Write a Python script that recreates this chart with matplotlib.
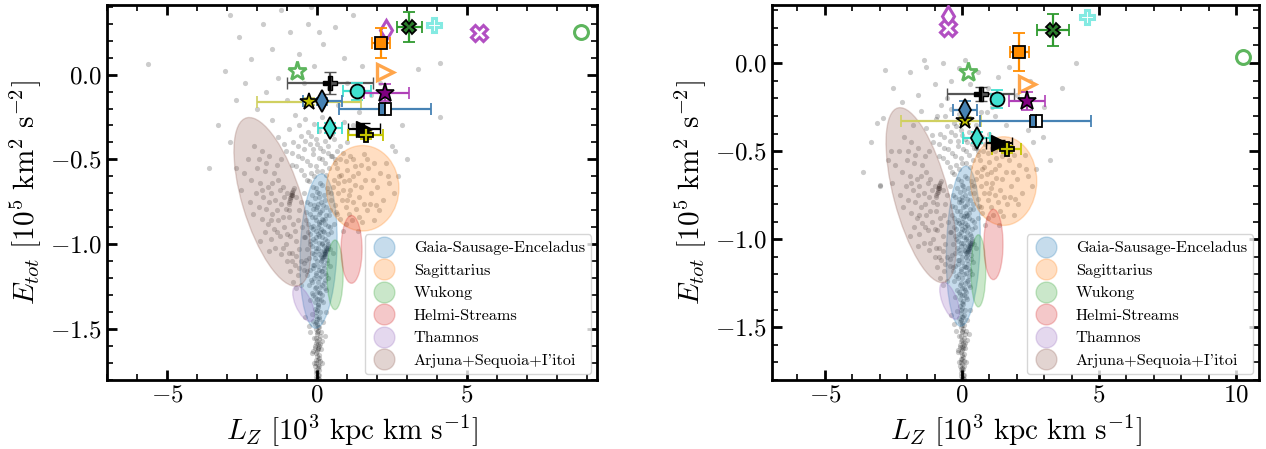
import numpy as np
import matplotlib
matplotlib.use("Agg")
import matplotlib.pyplot as plt
from matplotlib.patches import Ellipse
from matplotlib.lines import Line2D
from matplotlib.ticker import MultipleLocator, FormatStrFormatter, FuncFormatter

plt.rcParams.update({
    "font.family": "serif",
    "font.serif": ["cmr10"],
    "mathtext.fontset": "cm",
    "axes.formatter.use_mathtext": True,
    "axes.unicode_minus": True,
})

# ---------------------------------------------------------------------------
# Halo substructures: centre, half-extent in Lz and E, and Lz-E correlation
# ---------------------------------------------------------------------------
region_names = ["Gaia-Sausage-Enceladus", "Sagittarius", "Wukong",
                "Helmi-Streams", "Thamnos", "Arjuna+Sequoia+I'itoi"]
region_lz = [0.05, 1.52, 0.60, 1.15, -0.45, -1.49]
region_e = [-1.04, -0.67, -1.18, -1.03, -1.35, -0.75]
region_half_lz = [0.62, 1.21, 0.27, 0.35, 0.36, 1.28]
region_half_e = [0.455, 0.252, 0.205, 0.20, 0.105, 0.497]
region_corr = [0.15, 0.0, 0.0, 0.0, -0.6, -0.6]

# ---------------------------------------------------------------------------
# Background halo stars (Lz [1e3 kpc km/s], E [1e5 km^2/s^2])
# ---------------------------------------------------------------------------
stars_tail = [
    (0.02, -1.36), (-0.08, -1.38), (0.10, -1.40), (-0.03, -1.42), (0.05, -1.44),
    (-0.12, -1.45), (0.00, -1.47), (0.08, -1.49), (-0.05, -1.50), (0.14, -1.52),
    (0.01, -1.53), (-0.09, -1.55), (0.06, -1.56), (-0.02, -1.58), (0.11, -1.59),
    (-0.06, -1.61), (0.03, -1.62), (-0.14, -1.63), (0.07, -1.65), (0.00, -1.66),
    (-0.04, -1.68), (0.09, -1.69), (0.02, -1.71), (-0.07, -1.72), (0.05, -1.74),
    (-0.01, -1.75), (0.04, -1.77), (-0.03, -1.78), (0.01, -1.79), (0.06, -1.795),
    (-0.18, -1.41), (0.20, -1.46), (-0.22, -1.52), (0.18, -1.57), (-0.16, -1.64),
    (0.15, -1.70), (0.30, -1.40), (-0.28, -1.48), (0.00, -1.39), (0.03, -1.51),
    (-0.02, -1.64), (0.02, -1.73), (0.12, -1.62), (-0.10, -1.70), (0.25, -1.54),
    (0.00, -1.57), (-0.05, -1.46), (0.07, -1.60), (-0.40, -1.43), (0.02, -1.68),
    (0.04, -1.37), (-0.04, -1.40), (0.08, -1.43), (-0.08, -1.47), (0.02, -1.49),
    (0.10, -1.54), (-0.03, -1.55), (0.04, -1.59), (-0.08, -1.60), (0.01, -1.63),
    (0.05, -1.67), (-0.02, -1.70), (0.06, -1.72), (-0.04, -1.76), (0.03, -1.79),
    (0.00, -1.44), (-0.01, -1.52), (0.02, -1.61), (-0.05, -1.74), (0.08, -1.77),
]
stars_gse = [
    (-0.35, -0.62), (0.10, -0.64), (-0.15, -0.66), (0.32, -0.67), (0.00, -0.69),
    (-0.42, -0.70), (0.22, -0.71), (-0.08, -0.73), (0.45, -0.74), (0.12, -0.75),
    (-0.25, -0.76), (0.30, -0.78), (-0.02, -0.79), (0.18, -0.80), (-0.38, -0.81),
    (0.05, -0.82), (0.40, -0.83), (-0.18, -0.84), (0.25, -0.85), (-0.05, -0.86),
    (0.14, -0.87), (-0.30, -0.88), (0.35, -0.89), (0.02, -0.90), (-0.12, -0.91),
    (0.20, -0.92), (0.48, -0.93), (-0.22, -0.94), (0.08, -0.95), (-0.40, -0.96),
    (0.28, -0.97), (-0.06, -0.98), (0.16, -0.99), (0.38, -1.00), (-0.16, -1.01),
    (0.04, -1.02), (-0.32, -1.03), (0.24, -1.04), (0.52, -1.05), (-0.10, -1.06),
    (0.12, -1.07), (-0.26, -1.08), (0.32, -1.09), (0.00, -1.10), (-0.44, -1.11),
    (0.20, -1.12), (0.42, -1.13), (-0.14, -1.14), (0.06, -1.15), (-0.34, -1.16),
    (0.26, -1.17), (-0.04, -1.18), (0.14, -1.19), (0.36, -1.20), (-0.20, -1.21),
    (0.02, -1.22), (0.22, -1.23), (-0.28, -1.24), (0.10, -1.25), (-0.08, -1.26),
    (0.30, -1.27), (0.00, -1.28), (-0.18, -1.29), (0.16, -1.30), (-0.06, -1.31),
    (0.08, -1.32), (-0.24, -1.33), (0.20, -1.34), (0.04, -1.35),
    (0.05, -0.70), (-0.10, -0.77), (0.20, -0.86), (-0.20, -0.90), (0.10, -0.93),
    (-0.02, -0.96), (0.30, -1.02), (-0.05, -1.04), (0.18, -1.09), (-0.15, -1.12),
    (0.12, -1.16), (-0.10, -1.20), (0.25, -1.21), (0.05, -0.88), (-0.25, -0.98),
    (0.15, -1.00), (0.00, -0.78), (0.35, -0.94), (-0.32, -1.18), (0.08, -1.28),
    (-0.28, -0.63), (0.18, -0.65), (-0.02, -0.67), (0.38, -0.69), (-0.18, -0.71),
    (0.08, -0.72), (0.28, -0.74), (-0.32, -0.75), (0.02, -0.76), (0.20, -0.77),
    (-0.12, -0.79), (0.42, -0.80), (0.10, -0.81), (-0.25, -0.82), (0.30, -0.83),
    (-0.06, -0.84), (0.16, -0.85), (-0.36, -0.86), (0.06, -0.87), (0.26, -0.88),
    (-0.14, -0.89), (0.44, -0.90), (0.12, -0.91), (-0.04, -0.92), (0.24, -0.93),
    (-0.30, -0.93), (0.02, -0.94), (0.18, -0.96), (-0.12, -0.97), (0.32, -0.98),
    (0.06, -0.99), (-0.22, -1.00), (0.22, -1.01), (-0.02, -1.02), (0.44, -1.03),
    (0.12, -1.04), (-0.18, -1.05), (0.06, -1.06), (0.28, -1.07), (-0.06, -1.08),
    (-0.36, -1.09), (0.14, -1.10), (0.34, -1.11), (-0.10, -1.12), (0.02, -1.13),
    (0.24, -1.14), (-0.24, -1.15), (0.16, -1.16), (-0.02, -1.17), (0.30, -1.18),
    (0.06, -1.20), (-0.16, -1.22), (0.18, -1.24), (-0.04, -1.25), (0.26, -1.26),
    (0.10, -1.29), (-0.12, -1.30), (0.00, -1.32), (0.14, -1.33), (-0.08, -1.34),
    # compact clump inside the GSE region
    (0.38, -1.01), (0.35, -1.02), (0.33, -1.03), (0.30, -1.04), (0.28, -1.045),
    (0.26, -1.05), (0.24, -1.06), (0.22, -1.07), (0.19, -1.075), (0.16, -1.08),
    (0.31, -1.035), (0.27, -1.055),
]
stars_retro = [
    (-2.10, -0.42), (-1.85, -0.45), (-2.30, -0.50), (-1.60, -0.48), (-2.00, -0.55),
    (-1.75, -0.57), (-2.20, -0.62), (-1.45, -0.58), (-1.90, -0.64), (-1.65, -0.66),
    (-2.05, -0.70), (-1.30, -0.62), (-1.80, -0.72), (-1.55, -0.70), (-1.15, -0.66),
    (-1.95, -0.78), (-1.40, -0.74), (-1.70, -0.79), (-1.20, -0.76), (-1.85, -0.85),
    (-1.50, -0.82), (-1.05, -0.79), (-1.65, -0.88), (-1.30, -0.86), (-0.95, -0.84),
    (-1.75, -0.93), (-1.45, -0.91), (-1.10, -0.90), (-0.80, -0.88), (-1.55, -0.97),
    (-1.25, -0.95), (-0.90, -0.95), (-1.40, -1.02), (-1.05, -1.00), (-0.70, -0.98),
    (-1.20, -1.06), (-0.85, -1.05), (-0.60, -1.03), (-1.00, -1.10), (-0.75, -1.12),
    (-0.55, -1.10), (-0.90, -1.16), (-0.65, -1.18), (-0.45, -1.15), (-0.80, -1.22),
    (-0.55, -1.24), (-2.45, -0.58), (-2.25, -0.75), (-1.35, -0.53), (-0.60, -0.80),
    (-0.70, -0.72), (-1.00, -0.70), (-0.50, -0.90), (-0.45, -0.96), (-2.70, -0.55),
    (-2.55, -0.68),
    (-1.95, -0.50), (-1.70, -0.52), (-1.50, -0.64), (-1.85, -0.68), (-1.60, -0.75),
    (-1.35, -0.80), (-1.15, -0.84), (-1.55, -0.86), (-1.35, -0.93), (-1.00, -0.94),
    (-0.75, -0.92), (-1.15, -1.02), (-0.95, -1.05), (-0.70, -1.07), (-0.85, -1.10),
    (-0.60, -1.14), (-0.70, -1.26), (-1.10, -0.72), (-1.25, -0.68), (-0.92, -0.80),
    (-0.65, -0.86), (-0.55, -0.75), (-2.15, -0.82), (-1.90, -0.98), (-1.60, -1.04),
    # compact clump inside the retrograde region
    (-0.78, -0.67), (-0.80, -0.68), (-0.82, -0.69), (-0.84, -0.70), (-0.85, -0.71),
    (-0.87, -0.72), (-0.89, -0.73), (-0.91, -0.74), (-0.93, -0.75), (-0.95, -0.76),
    (-0.83, -0.71), (-0.88, -0.71),
]
stars_sgr = [
    (0.50, -0.48), (0.85, -0.46), (1.20, -0.50), (1.55, -0.47), (1.90, -0.52),
    (0.65, -0.55), (1.00, -0.56), (1.35, -0.58), (1.70, -0.55), (2.10, -0.58),
    (0.55, -0.62), (0.90, -0.63), (1.25, -0.65), (1.60, -0.62), (2.00, -0.66),
    (2.40, -0.64), (0.70, -0.70), (1.05, -0.71), (1.40, -0.72), (1.80, -0.70),
    (2.20, -0.74), (0.60, -0.77), (0.95, -0.78), (1.30, -0.79), (1.65, -0.80),
    (2.05, -0.80), (0.75, -0.85), (1.15, -0.86), (1.50, -0.87), (1.90, -0.86),
    (0.85, -0.92), (1.35, -0.92), (0.45, -0.70), (0.80, -0.59), (1.10, -0.68),
    (0.70, -0.64), (0.95, -0.51), (1.45, -0.53), (2.55, -0.70), (2.30, -0.52),
    (1.75, -0.76), (0.62, -0.81), (1.00, -0.74), (0.88, -0.68), (1.20, -0.60),
    (2.70, -0.60), (2.60, -0.45),
    (0.60, -0.52), (0.78, -0.50), (1.10, -0.48), (1.65, -0.50), (0.72, -0.60),
    (1.05, -0.62), (1.45, -0.66), (1.85, -0.62), (0.52, -0.66), (0.82, -0.74),
    (1.20, -0.75), (1.55, -0.76), (0.68, -0.82), (1.05, -0.82), (1.40, -0.84),
    (0.95, -0.88), (0.58, -0.88), (2.35, -0.60), (1.95, -0.77), (1.25, -0.54),
]
stars_upper = [
    (-0.20, -0.58), (0.15, -0.57), (-0.55, -0.56), (0.40, -0.55), (-0.05, -0.54),
    (-0.85, -0.53), (0.25, -0.52), (-0.35, -0.51), (0.60, -0.50), (0.05, -0.49),
    (-0.65, -0.48), (-0.15, -0.47), (0.35, -0.46), (-1.05, -0.45), (-0.45, -0.44),
    (0.10, -0.43), (0.75, -0.42), (-0.25, -0.41), (-0.80, -0.40), (0.25, -0.39),
    (-0.05, -0.38), (-1.30, -0.37), (-0.55, -0.36), (0.50, -0.35), (-0.30, -0.34),
    (0.05, -0.33), (-0.95, -0.32), (0.30, -0.31), (-0.60, -0.30), (-0.10, -0.29),
    (0.90, -0.28), (-1.50, -0.27), (-0.40, -0.26), (0.15, -0.25), (-0.75, -0.24),
    (1.20, -0.30), (-1.20, -0.50), (1.00, -0.40), (-0.10, -0.60), (0.55, -0.38),
    (-0.45, -0.59), (0.00, -0.57), (0.30, -0.59), (-0.70, -0.54), (-0.25, -0.53),
    (0.15, -0.50), (-0.50, -0.49), (0.45, -0.48), (-0.15, -0.44), (-0.65, -0.42),
    (0.20, -0.45), (-0.40, -0.39), (0.00, -0.41), (0.35, -0.42), (-0.20, -0.36),
    (-1.10, -0.41), (0.65, -0.45), (-0.85, -0.46),
]
# loosely bound stars, energies differ between the two potentials
stars_loose_a = [
    (-5.64, 0.065), (-2.90, 0.35), (-2.60, 0.22), (-3.07, 0.02), (-2.20, 0.09),
    (-1.80, 0.30), (-1.50, 0.15), (-2.40, -0.05), (-1.20, 0.38), (-0.90, 0.25),
    (-1.70, -0.10), (-0.60, 0.12), (-1.30, -0.02), (-0.30, 0.30), (0.20, 0.18),
    (-0.10, 0.05), (0.60, 0.28), (0.90, 0.10), (1.20, 0.35), (0.40, -0.08),
    (1.50, 0.05), (1.80, -0.12), (-2.00, -0.20), (-2.70, -0.15), (-3.30, -0.30),
    (-1.00, -0.15), (0.70, -0.18), (1.40, -0.22), (2.10, -0.05), (2.82, -0.30),
    (3.37, 0.035), (4.10, 0.07), (4.10, -0.25), (2.50, -0.42), (3.00, -0.50),
    (-2.90, -0.40), (-3.60, -0.55), (-0.20, 0.40), (0.05, 0.25), (-0.45, -0.05),
    (1.00, -0.05),
]
stars_loose_b = [
    (-2.80, -0.04), (-2.50, -0.14), (-2.88, -0.31), (-2.20, -0.22), (-1.90, -0.05),
    (-1.60, -0.18), (-1.30, -0.02), (-1.00, -0.12), (-0.70, 0.00), (-0.40, -0.10),
    (-0.10, -0.03), (0.30, -0.12), (0.60, -0.05), (0.95, -0.14), (1.30, -0.08),
    (1.70, -0.02), (2.00, -0.18), (2.50, -0.10), (3.00, -0.25), (3.64, -0.14),
    (4.16, 0.00), (2.96, -0.42), (-3.30, -0.45), (-2.60, -0.50), (-1.80, -0.35),
    (-0.90, -0.30), (0.70, -0.28), (1.60, -0.35), (2.40, -0.38), (-3.60, -0.62),
    (-3.00, -0.70), (-1.40, 0.02), (0.10, 0.02), (-0.55, -0.20), (1.10, -0.25),
    (3.20, -0.55), (-3.10, -0.34), (-3.00, -0.69),
]

# ---------------------------------------------------------------------------
# Satellite objects: Lz, E and uncertainties in each potential
# ---------------------------------------------------------------------------
obj_lz_a = [2.29, 3.08, 3.89, 5.41, 8.79, 2.14, -0.66, 2.26, 0.43, 1.33,
            2.28, -0.26, 0.18, 2.27, 0.43, 1.57, 1.62]
obj_e_a = [0.26, 0.28, 0.29, 0.245, 0.25, 0.186, 0.02, 0.014, -0.049, -0.098,
           -0.108, -0.161, -0.157, -0.20, -0.314, -0.318, -0.359]
obj_lz_lo_a = [np.nan, 0.42, np.nan, np.nan, np.nan, 0.30, np.nan, np.nan, 1.44, 0.48,
               0.72, 1.74, 0.65, 1.53, 0.39, 0.54, 0.58]
obj_lz_hi_a = [np.nan, 0.42, np.nan, np.nan, np.nan, 0.30, np.nan, np.nan, 1.44, 0.48,
               0.80, 1.74, 0.65, 1.53, 0.39, 0.54, 0.58]
obj_e_err_a = [np.nan, 0.088, np.nan, np.nan, np.nan, 0.088, np.nan, np.nan, 0.065, 0.05,
               0.05, 0.02, 0.02, 0.02, 0.03, 0.03, 0.02]

obj_lz_b = [-0.50, 3.31, 4.55, -0.50, 10.24, 2.09, 0.23, 2.36, 0.69, 1.27,
            2.36, 0.13, 0.11, 2.69, 0.54, 1.35, 1.63]
obj_e_b = [0.27, 0.1875, 0.26, 0.197, 0.036, 0.064, -0.049, -0.119, -0.178, -0.205,
           -0.216, -0.328, -0.267, -0.328, -0.424, -0.456, -0.489]
obj_lz_lo_b = [np.nan, 0.58, np.nan, np.nan, np.nan, 0.35, np.nan, np.nan, 1.22, 0.20,
               0.66, 2.34, 0.44, 2.03, 0.49, 0.47, 0.53]
obj_lz_hi_b = [np.nan, 0.58, np.nan, np.nan, np.nan, 0.35, np.nan, np.nan, 1.22, 0.20,
               0.66, 0.56, 0.44, 2.03, 0.49, 0.47, 0.53]
obj_e_err_b = [np.nan, 0.093, np.nan, np.nan, np.nan, 0.107, np.nan, np.nan, 0.04, 0.05,
               0.05, 0.02, 0.05, 0.02, 0.03, 0.02, 0.02]

# marker style for each object
orchid = "#b24fc2"
light_green = "#5db55d"
obj_styles = [
    dict(marker="d", ms=10, mfc="none", mec=orchid, mew=2.2),
    dict(marker="X", ms=10, mfc="#2d7d2d", mec="k", mew=1.3, ecolor="#2f9a2f"),
    dict(marker="P", ms=10, mfc="white", mec="#84eae2", mew=2.2),
    dict(marker="X", ms=11, mfc="white", mec=orchid, mew=2.2),
    dict(marker="o", ms=10, mfc="white", mec=light_green, mew=2.2),
    dict(marker="s", ms=9, mfc="darkorange", mec="k", mew=1.3, ecolor="darkorange"),
    dict(marker="*", ms=14, mfc="white", mec=light_green, mew=2.0),
    dict(marker=">", ms=11, mfc="white", mec="#ffa54a", mew=2.4),
    dict(marker="P", ms=10, mfc="k", mec="k", mew=1.0, fillstyle="left",
         mfcalt="#555555", ecolor="#555555"),
    dict(marker="o", ms=10, mfc="turquoise", mec="k", mew=1.3, ecolor="turquoise"),
    dict(marker="*", ms=14, mfc="purple", mec="k", mew=1.2, ecolor="#b040b8"),
    dict(marker="*", ms=13, mfc="#c4c400", mec="k", mew=1.2, ecolor="#d0d060"),
    dict(marker="d", ms=11, mfc="steelblue", mec="k", mew=1.3, ecolor="steelblue"),
    dict(marker="s", ms=9, mfc="steelblue", mec="k", mew=1.3, fillstyle="left",
         mfcalt="white", ecolor="steelblue"),
    dict(marker="d", ms=11, mfc="turquoise", mec="k", mew=1.3, ecolor="turquoise"),
    dict(marker=">", ms=11, mfc="k", mec="k", mew=1.0, ecolor="k"),
    dict(marker="P", ms=10, mfc="#c4c400", mec="k", mew=1.3, ecolor="#c4c400"),
]

region_colors = ["C0", "C1", "C2", "C3", "C4", "C5"]


def region_patch(cx, cy, hx, hy, rho, color):
    cov = np.array([[hx ** 2, rho * hx * hy], [rho * hx * hy, hy ** 2]])
    vals, vecs = np.linalg.eigh(cov)
    order = np.argsort(vals)[::-1]
    vals, vecs = vals[order], vecs[:, order]
    angle = np.degrees(np.arctan2(vecs[1, 0], vecs[0, 0]))
    return Ellipse((cx, cy), 2 * np.sqrt(vals[0]), 2 * np.sqrt(vals[1]),
                   angle=angle, facecolor=color, edgecolor=color, lw=1.0,
                   alpha=0.25, zorder=2)


def draw_panel(ax, loose, lz, e, lz_lo, lz_hi, e_err, xlim, ylim, xticks):
    pts = np.array(stars_tail + stars_gse + stars_retro + stars_sgr + stars_upper + loose)
    ax.scatter(pts[:, 0], pts[:, 1], s=14, color="k", alpha=0.2,
               linewidths=0, zorder=1)

    for i in range(len(region_names)):
        ax.add_patch(region_patch(region_lz[i], region_e[i], region_half_lz[i],
                                  region_half_e[i], region_corr[i], region_colors[i]))

    for i, st in enumerate(obj_styles):
        st = dict(st)
        ecol = st.pop("ecolor", None)
        if np.isnan(lz_lo[i]):
            ax.plot([lz[i]], [e[i]], ls="none", zorder=5, **st)
        else:
            ax.errorbar([lz[i]], [e[i]], xerr=[[lz_lo[i]], [lz_hi[i]]],
                        yerr=[[e_err[i]], [e_err[i]]], ls="none", ecolor=ecol,
                        elinewidth=1.6, capsize=4, capthick=1.6, zorder=5, **st)

    ax.set_xlim(*xlim)
    ax.set_ylim(*ylim)
    ax.set_xticks(xticks)
    ax.set_yticks([0.0, -0.5, -1.0, -1.5])
    ax.xaxis.set_minor_locator(MultipleLocator(1))
    ax.yaxis.set_minor_locator(MultipleLocator(0.1))
    ax.yaxis.set_major_formatter(FormatStrFormatter(r"$%.1f$"))
    ax.xaxis.set_major_formatter(FuncFormatter(lambda v, p: r"$%d$" % v))
    ax.tick_params(which="both", direction="in", top=True, right=True,
                   labelsize=18)
    ax.tick_params(which="major", length=7, width=2)
    ax.tick_params(which="minor", length=4.5, width=1.2)
    for sp in ax.spines.values():
        sp.set_linewidth(2)
    ax.set_xlabel(r"$L_Z\ [10^3\ \mathrm{kpc\ km\ s^{-1}}]$", fontsize=21, labelpad=4)
    ax.set_ylabel(r"$E_{tot}\ [10^5\ \mathrm{km^2\ s^{-2}}]$", fontsize=21, labelpad=4)

    handles = [Line2D([], [], ls="none", marker="o", ms=15, color=c, mec=c,
                      alpha=0.25) for c in region_colors]
    leg = ax.legend(handles, region_names, loc="lower right", fontsize=11.7,
                    frameon=True, fancybox=True, framealpha=0.8, edgecolor="#cccccc",
                    borderaxespad=0.35, labelspacing=0.5, handletextpad=1.0,
                    borderpad=0.4, handlelength=1.6)
    leg.set_zorder(6)


fig = plt.figure(figsize=(12.66, 4.49), dpi=100)
ax1 = fig.add_axes([107 / 1266, 69 / 449, 490 / 1266, 375 / 449])
ax2 = fig.add_axes([772 / 1266, 69 / 449, 487 / 1266, 375 / 449])

draw_panel(ax1, stars_loose_a, obj_lz_a, obj_e_a, obj_lz_lo_a, obj_lz_hi_a,
           obj_e_err_a, (-7.0, 9.33), (-1.8, 0.41), [-5, 0, 5])
draw_panel(ax2, stars_loose_b, obj_lz_b, obj_e_b, obj_lz_lo_b, obj_lz_hi_b,
           obj_e_err_b, (-6.93, 10.84), (-1.8, 0.33), [-5, 0, 5, 10])

fig.savefig("out.png", dpi=100)
